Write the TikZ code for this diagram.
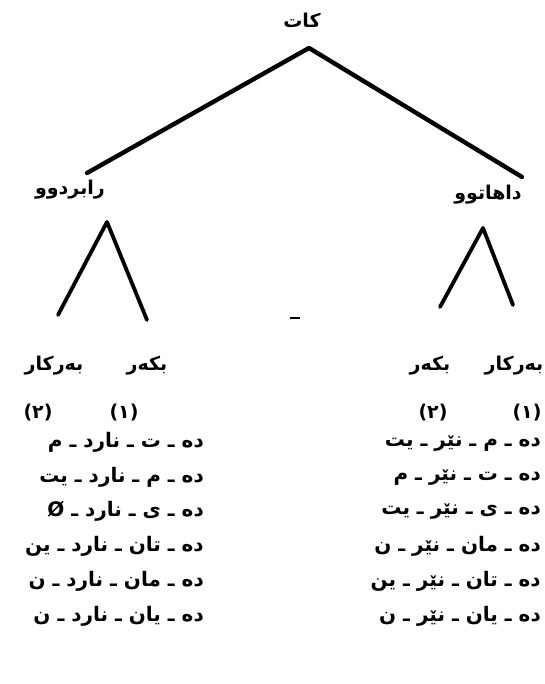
\documentclass[tikz,border=0pt]{standalone}
\usepackage{fontspec}
\TeXXeTstate=1
\newfontfamily\ku[Script=Arabic]{DejaVu Sans}
\begin{document}
\begin{tikzpicture}[x=1pt,y=-1pt,
  branch/.style={line width=4.4pt,line cap=round,line join=round},
  lbl/.style={font=\ku\bfseries\fontsize{19}{22}\selectfont,inner sep=0pt},
  row/.style={font=\ku\bfseries\fontsize{20}{23}\selectfont,inner sep=0pt,anchor=east},
  num/.style={font=\ku\bfseries\fontsize{19}{22}\selectfont,inner sep=0pt}]
\useasboundingbox (0,0) rectangle (545,684);
% labels
\node[lbl] (kat) at (302,20) {\beginR کات\endR};
\node[lbl] (past) at (70,190) {\beginR رابردوو\endR};
\node[lbl] (fut) at (488,195) {\beginR داهاتوو\endR};
% tree points
\coordinate (top) at (309,48);
\coordinate (pl) at (87,173);
\coordinate (pr) at (522,177);
\coordinate (la) at (107,222);
\coordinate (ll) at (58,315);
\coordinate (lr) at (147,320);
\coordinate (ra) at (483,228);
\coordinate (rl) at (440,307);
\coordinate (rr) at (513,305);
\draw[branch] (pl) -- (top) -- (pr);
\draw[branch,line width=3.8pt] (ll) -- (la) -- (lr);
\draw[branch,line width=3.8pt] (rl) -- (ra) -- (rr);
% stray mark
\coordinate (m1) at (290,318);
\coordinate (m2) at (300,318);
\draw[line width=1.5pt] (m1) -- (m2);
% column headings
\node[lbl] (lobj) at (54,366) {\beginR بەرکار\endR};
\node[lbl] (lsub) at (147,366) {\beginR بکەر\endR};
\node[lbl] (rsub) at (430,366) {\beginR بکەر\endR};
\node[lbl] (robj) at (514,366) {\beginR بەرکار\endR};
\node[num] (ln2) at (38,413) {(٢)};
\node[num] (ln1) at (124,413) {(١)};
\node[num] (rn2) at (433,413) {(٢)};
\node[num] (rn1) at (527,413) {(١)};
% left rows
\node[row] (l1) at (204,442) {\beginR دە ـ ت ـ نارد ـ م\endR};
\node[row] (l2) at (204,477) {\beginR دە ـ م ـ نارد ـ یت\endR};
\node[row] (l3) at (204,511) {\beginR دە ـ ی ـ نارد ـ Ø\endR};
\node[row] (l4) at (204,546) {\beginR دە ـ تان ـ نارد ـ ین\endR};
\node[row] (l5) at (204,581) {\beginR دە ـ مان ـ نارد ـ ن\endR};
\node[row] (l6) at (204,616) {\beginR دە ـ یان ـ نارد ـ ن\endR};
% right rows
\node[row] (r1) at (541,444) {\beginR دە ـ م ـ نێر ـ یت\endR};
\node[row] (r2) at (541,478) {\beginR دە ـ ت ـ نێر ـ م\endR};
\node[row] (r3) at (541,512) {\beginR دە ـ ی ـ نێر ـ یت\endR};
\node[row] (r4) at (541,546) {\beginR دە ـ مان ـ نێر ـ ن\endR};
\node[row] (r5) at (541,581) {\beginR دە ـ تان ـ نێر ـ ین\endR};
\node[row] (r6) at (541,616) {\beginR دە ـ یان ـ نێر ـ ن\endR};
\end{tikzpicture}
\end{document}
